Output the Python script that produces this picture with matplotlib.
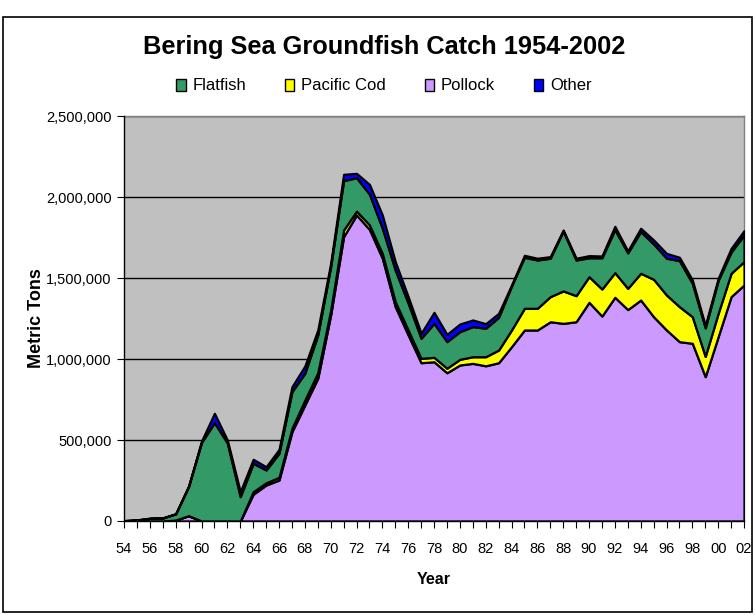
import matplotlib
matplotlib.use("Agg")
import matplotlib.pyplot as plt
from matplotlib.patches import Rectangle, Patch
from matplotlib.ticker import FuncFormatter

plt.rcParams['font.family'] = ['Liberation Sans', 'DejaVu Sans']

years = list(range(1954, 2003))
tick_labels = [f"{y % 100:02d}" for y in range(1954, 2003, 2)]

pollock = [0, 0, 0, 0, 6000, 33000, 0, 0, 0, 0,
           165000, 222000, 253000, 551000, 716000, 881000, 1272000, 1755000, 1889000, 1800000,
           1622000, 1323000, 1148000, 977000, 983000, 915000, 963000, 973000, 958000, 977000,
           1076000, 1179000, 1179000, 1230000, 1220000, 1230000, 1350000, 1265000, 1381000, 1305000,
           1364000, 1261000, 1179000, 1107000, 1097000, 891000, 1138000, 1385000, 1457000]
pacific_cod = [0, 0, 0, 0, 0, 0, 0, 0, 0, 0,
               16000, 14000, 17000, 21000, 31000, 34000, 30000, 41000, 24000, 28000,
               30000, 31000, 31000, 27000, 27000, 28000, 35000, 41000, 56000, 78000,
               103000, 134000, 134000, 155000, 200000, 161000, 158000, 167000, 152000, 131000,
               165000, 231000, 216000, 216000, 164000, 125000, 144000, 144000, 144000]
flatfish = [2000, 6000, 16000, 18000, 38000, 180000, 485000, 607000, 481000, 150000,
            175000, 79000, 148000, 226000, 165000, 233000, 268000, 305000, 206000, 190000,
            155000, 195000, 165000, 124000, 210000, 164000, 171000, 186000, 176000, 202000,
            271000, 315000, 298000, 237000, 370000, 220000, 117000, 193000, 266000, 219000,
            257000, 218000, 227000, 284000, 206000, 176000, 203000, 131000, 164000]
other = [1000, 1000, 2000, 2000, 1000, 3000, 9000, 58000, 19000, 31000,
         25000, 20000, 24000, 31000, 45000, 31000, 21000, 39000, 27000, 60000,
         82000, 52000, 41000, 31000, 68000, 45000, 47000, 41000, 28000, 25000,
         7000, 12000, 11000, 10000, 6000, 11000, 13000, 11000, 20000, 12000,
         21000, 25000, 30000, 21000, 21000, 15000, 13000, 23000, 27000]

c_pollock = '#CC99FF'
c_cod = '#FFFF00'
c_flat = '#339966'
c_other = '#0000FF'

fig = plt.figure(figsize=(7.55, 6.15), dpi=100)
fig.patch.set_facecolor('white')

# outer chart border
fig.patches.append(Rectangle((3 / 755, 3 / 615), 749 / 755, 595 / 615,
                             transform=fig.transFigure, fill=False,
                             edgecolor='black', linewidth=1.2))

ax = fig.add_axes([124 / 755, 94 / 615, 620 / 755, 405 / 615])
ax.set_facecolor('#C0C0C0')

ax.stackplot(years, pollock, pacific_cod, flatfish, other,
             colors=[c_pollock, c_cod, c_flat, c_other],
             edgecolor='black', linewidth=1.6, zorder=3)

ax.set_xlim(1954, 2002)
ax.set_ylim(0, 2500000)
ax.set_yticks(range(0, 2500001, 500000))
ax.yaxis.set_major_formatter(FuncFormatter(lambda v, p: f"{int(v):,}"))
ax.set_xticks(years, minor=False)
ax.set_xticklabels([f"{y % 100:02d}" if (y - 1954) % 2 == 0 else "" for y in years])

ax.grid(axis='y', color='black', linewidth=1.0, zorder=1)
ax.set_axisbelow(True)

for s in ['top', 'right']:
    ax.spines[s].set_color('#808080')
    ax.spines[s].set_linewidth(1.0)
for s in ['left', 'bottom']:
    ax.spines[s].set_color('black')
    ax.spines[s].set_linewidth(1.0)
    ax.spines[s].set_zorder(5)

ax.tick_params(axis='y', direction='out', length=5, labelsize=10.5, pad=4)
ax.tick_params(axis='x', direction='out', length=5, labelsize=10.5, pad=10)

ax.set_xlabel('Year', fontsize=11.5, fontweight='bold', labelpad=12)
ax.set_ylabel('Metric Tons', fontsize=13, fontweight='bold', labelpad=0.5)

fig.text(384 / 755, 1 - 47 / 615, 'Bering Sea Groundfish Catch 1954-2002',
         ha='center', va='center', fontsize=18.3, fontweight='bold')

handles = [Patch(facecolor=c_flat, edgecolor='black', label='Flatfish'),
           Patch(facecolor=c_cod, edgecolor='black', label='Pacific Cod'),
           Patch(facecolor=c_pollock, edgecolor='black', label='Pollock'),
           Patch(facecolor=c_other, edgecolor='black', label='Other')]
fig.legend(handles=handles, loc='center', bbox_to_anchor=(384 / 755, 1 - 86 / 615),
           ncol=4, frameon=False, fontsize=12, handlelength=0.55, handleheight=0.75,
           handletextpad=0.4, columnspacing=2.35)

fig.savefig('out.png', dpi=100)
